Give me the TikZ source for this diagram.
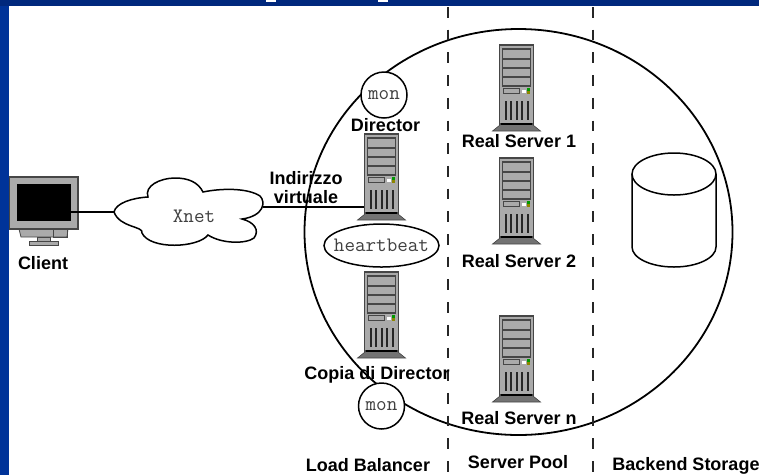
\documentclass[tikz,border=0pt]{standalone}
\usepackage{fontspec}
\setmainfont{Liberation Sans}
\usepackage{xcolor}
\usetikzlibrary{positioning}

\definecolor{frameTop}{RGB}{0,40,125}
\definecolor{frameSide}{RGB}{0,51,153}
\definecolor{caseGrey}{RGB}{170,170,170}
\definecolor{edgeGrey}{RGB}{70,70,70}

\tikzset{
    caption/.style={font=\bfseries\fontsize{18}{19}\selectfont, inner sep=0pt, align=center},
    mono/.style={font=\ttfamily\fontsize{20.5}{22}\selectfont, inner sep=0pt, text=black!75},
    monitor/.style={circle, draw, line width=1.5pt, fill=white, minimum size=46pt, inner sep=0pt},
    link/.style={line width=1.6pt},
    pool/.style={dashed, line width=2.4pt, dash pattern=on 10.7pt off 12pt, black!85},
    servertower/.pic={
        % Foot
        \fill[gray!90!black, draw=edgeGrey, line width=.6pt] (-14,78) -- (14,78) -- (24,86) -- (-24,86) -- cycle;
        % Case
        \draw[fill=caseGrey, draw=edgeGrey, line width=1.8pt] (-17,0) rectangle (17,79);
        \draw[black, line width=1.4pt] (-15.5,79) -- (15.5,79);
        % Bays
        \draw[edgeGrey, fill=caseGrey, line width=1.1pt] (-14,4) rectangle (14,14);
        \draw[edgeGrey, fill=caseGrey, line width=1.1pt] (-14,14) rectangle (14,23);
        \draw[edgeGrey, fill=caseGrey, line width=1.1pt] (-14,23) rectangle (14,32);
        \draw[edgeGrey, fill=caseGrey, line width=1.1pt] (-14,32) rectangle (14,41);
        % Panel and lights
        \draw[edgeGrey, fill=caseGrey, line width=.6pt] (-13.5,43) rectangle (3,48);
        \fill[white] (5,45) rectangle (9,48);
        \fill[green!60!black] (10.5,43) rectangle (13,45.5);
        \fill[olive] (10.5,46) rectangle (13,48.5);
        % Vents
        \foreach \ventx in {-11,-5.5,0,5.5,11}
            \draw[black!85, line width=2pt] (\ventx,56) -- (\ventx,75);
    }
}

\begin{document}
\begin{tikzpicture}[x=1pt, y=-1pt]
    \useasboundingbox (0,0) rectangle (759,475);

    % Frame
    \fill[white] (0,0) rectangle (759,475);
    \fill[frameSide] (0,0) rectangle (9,475);
    \fill[frameTop] (0,0) rectangle (759,6);
    \fill[white] (266,0) rectangle (276,2);
    \fill[white] (378,0) rectangle (388,2);

    % Coordinates
    \coordinate (clientport) at (71,212);
    \coordinate (cloudleft) at (114,212);
    \coordinate (cloudright) at (263,207);
    \coordinate (directorport) at (364,207);

    % Big circle
    \draw[line width=1.8pt] (518.5,232) ellipse (214 and 203);

    % Columns
    \draw[pool] (448,7) -- (448,475);
    \draw[pool] (593,7) -- (593,475);

    % Client
    \draw[edgeGrey, fill=caseGrey, line width=.8pt] (19,229) -- (68,229) -- (67,237) -- (21,237) -- cycle;
    \draw[edgeGrey, line width=.6pt] (53,229) rectangle (67,237);
    \fill[caseGrey, draw=edgeGrey, line width=.6pt] (37,237) rectangle (50,241);
    \fill[caseGrey, draw=edgeGrey, line width=.8pt] (29,241) rectangle (58,245);
    \draw[edgeGrey, fill=caseGrey, line width=1.2pt] (9.5,177) rectangle (78,229);
    \fill[black] (17,184) rectangle (71,221);
    \node[caption] (client) at (43,263) {Client};

    % Network
    \draw[line width=1.5pt, fill=white] (cloudleft)
        .. controls (116,203) and (132,198) .. (148,197)
        .. controls (144,186) and (160,178) .. (175,178)
        .. controls (188,178) and (198,182) .. (203,192)
        .. controls (222,188) and (248,188) .. (260,196)
        .. controls (266,202) and (264,216) .. (242,219)
        .. controls (254,222) and (260,230) .. (254,238)
        .. controls (246,244) and (222,244) .. (208,235)
        .. controls (198,248) and (150,250) .. (142,233)
        .. controls (144,226) and (120,228) .. (cloudleft);
    \node[mono] (xnet) at (194,216) {Xnet};
    \draw[link] (clientport) -- (cloudleft);
    \draw[link] (cloudright) -- (directorport);
    \node[caption] (virtual) at (306,187.5) {Indirizzo\\virtuale};

    % Load balancer
    \pic at (381.5,134) {servertower};
    \pic at (381.5,272) {servertower};
    \node[monitor] (montop) at (384,95) {};
    \node[mono] at (montop) {mon};
    \node[monitor] (monbottom) at (381.5,406) {};
    \node[mono] at (monbottom) {mon};
    \draw[line width=1.5pt, fill=white] (381.5,245.5) ellipse (57.5 and 21.5);
    \node[mono] (heartbeat) at (381.5,245.5) {heartbeat};
    \node[caption] (director) at (385.5,125) {Director};
    \node[caption] (backup) at (377,374.5) {Copia di Director};

    % Real servers
    \pic at (516.5,45) {servertower};
    \pic at (516.5,158) {servertower};
    \pic at (516.5,316) {servertower};
    \node[caption] (realone) at (519,141) {Real Server 1};
    \node[caption] (realtwo) at (519,261) {Real Server 2};
    \node[caption] (realn) at (519,418) {Real Server n};

    % Storage
    \draw[line width=1.5pt, fill=white] (632,174) -- (632,247)
        arc[start angle=180, end angle=0, x radius=42, y radius=20] -- (716,174);
    \draw[line width=1.5pt, fill=white] (674,174) ellipse (42 and 21);

    % Labels
    \node[caption] (loadbalancer) at (368,465) {Load Balancer};
    \node[caption] (serverpool) at (518,462) {Server Pool};
    \node[caption] (backend) at (686,466) {Backend Storage};
\end{tikzpicture}
\end{document}
